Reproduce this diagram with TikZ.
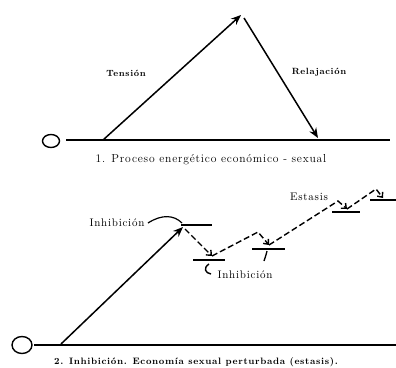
\documentclass[tikz,border=0pt]{standalone}
\usepackage{fontspec}
\usepackage{tikz}
\usetikzlibrary{arrows.meta, shapes.geometric}
\newfontfamily\spacedrm[LetterSpace=7]{Latin Modern Roman}

\tikzset{
  flow/.style={line width=1.5pt, -{Stealth[length=10pt,width=8pt]}},
  block/.style={line width=1.4pt, dash pattern=on 6pt off 3pt, -{Straight Barb[length=4pt,width=7pt]}},
  level/.style={line width=1.4pt},
  ring/.style={draw, ellipse, line width=1.4pt, inner sep=0pt},
  lab/.style={font=\spacedrm\fontsize{11}{12}\selectfont},
  boldlab/.style={font=\spacedrm\bfseries\fontsize{9}{10}\selectfont},
}

\begin{document}
\begin{tikzpicture}[x=1pt, y=-1pt]
    \useasboundingbox (0,0) rectangle (396,367);
    % 1. normal process
    \node[ring, minimum width=17pt, minimum height=13pt] (o1) at (51,141) {};
    \coordinate (base1) at (66,140);
    \coordinate (end1) at (390,140);
    \coordinate (s1) at (103,140);
    \coordinate (top1) at (241,15);
    \coordinate (top1b) at (244,18);
    \coordinate (e1) at (318,138);
    \draw[level] (base1) -- (end1);
    \draw[flow] (s1) -- (top1);
    \draw[flow] (top1b) -- (e1);
    \node[boldlab] (tens) at (126,73) {Tensión};
    \node[boldlab] (rel) at (319,72) {Relajación};
    \node[font=\spacedrm\fontsize{11.6}{13}\selectfont] (cap1) at (211,160) {1. Proceso energético económico - sexual};

    % 2. inhibition
    \node[ring, minimum width=20pt, minimum height=17pt] (o2) at (22,345) {};
    \coordinate (base2) at (34,345);
    \coordinate (end2) at (396,345);
    \coordinate (s2) at (61,344);
    \coordinate (top2) at (183,227);
    \draw[level] (base2) -- (end2);
    \draw[flow] (s2) -- (top2);
    \node[lab] (inh1) at (117,223) {Inhibición};
    \draw[line width=1.2pt] (inh1.east) .. controls (162,214) and (174,215) .. (182,223);
    \draw[level] (181,225) -- (212,225);

    \coordinate (d0) at (185,229);
    \coordinate (t1) at (212,256);
    \coordinate (p1) at (258,232);
    \coordinate (t2) at (269,245);
    \coordinate (p2) at (338,201);
    \coordinate (t3) at (347,209);
    \coordinate (p3) at (376,189);
    \coordinate (t4) at (383,198);
    \draw[block] (d0) -- (t1);
    \draw[block] (t1) -- (p1) -- (t2);
    \draw[block] (t2) -- (p2) -- (t3);
    \draw[block] (t3) -- (p3) -- (t4);

    \draw[level] (193,260) -- (225,260);
    \draw[line width=1.4pt] (209,264) .. controls (203,268) and (205,273) .. (211,274);
    \draw[level] (252,249) -- (285,249);
    \draw[line width=1.3pt] (267,251) .. controls (266,255) .. (264,261);
    \draw[level] (332,212) -- (360,212);
    \draw[level] (370,200) -- (396,200);

    \node[lab] (inh2) at (245,275) {Inhibición};
    \node[lab] (est) at (309,197) {Estasis};
    \node[font=\spacedrm\bfseries\fontsize{9.3}{11}\selectfont] (cap2) at (196,362) {2. Inhibición. Economía sexual perturbada (estasis).};
\end{tikzpicture}
\end{document}
